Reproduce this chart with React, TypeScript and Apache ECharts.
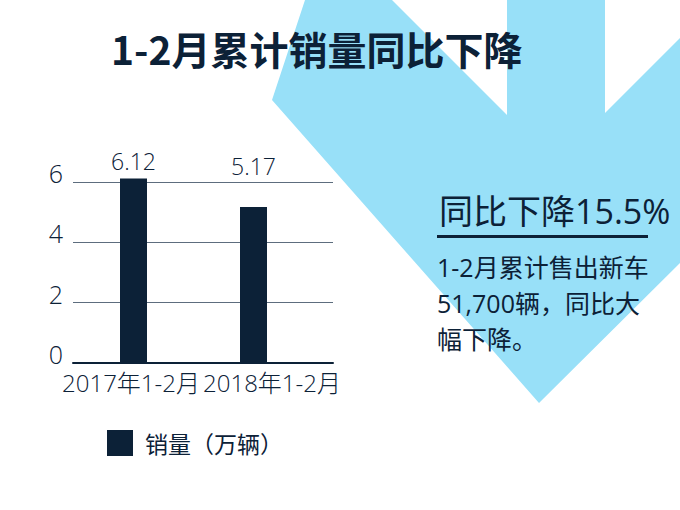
import React, { useEffect, useRef } from 'react';
import * as echarts from 'echarts';

const categories = ['2017年1-2月', '2018年1-2月'];
const sales = [6.12, 5.17];
const yTicks = [0, 2, 4, 6];
const seriesName = '销量（万辆）';
const title = '1-2月累计销量同比下降';
const headline = '同比下降15.5%';
const bodyLines = ['1-2月累计售出新车', '51,700辆，同比大', '幅下降。'];

const NAVY = '#0c2137';
const BLUE = '#98e0f8';
const GRID = '#5d6d7e';
const LATIN = "'Open Sans', 'Noto Sans CJK SC', sans-serif";
const CJK = "'Noto Sans CJK SC', sans-serif";

const catLabel = {
  fontFamily: LATIN,
  fontWeight: 300,
  fontSize: 24,
  color: NAVY,
  lineHeight: 26,
};

const App: React.FC = () => {
  const chartRef = useRef<HTMLDivElement | null>(null);

  useEffect(() => {
    if (!chartRef.current) return;
    const chart = echarts.init(chartRef.current, undefined, { renderer: 'svg' });

    const yMax = yTicks[yTicks.length - 1];
    const yInterval = yTicks[1] - yTicks[0];

    const option: echarts.EChartsOption = {
      animation: false,
      backgroundColor: '#ffffff',
      title: {
        text: title,
        left: 111,
        top: 27,
        padding: 0,
        textStyle: { fontFamily: CJK, fontWeight: 'bold', fontSize: 39, color: NAVY, lineHeight: 42 },
      },
      legend: {
        data: [seriesName],
        left: 102,
        top: 425,
        icon: 'rect',
        itemWidth: 26,
        itemHeight: 26,
        textStyle: { fontFamily: CJK, fontSize: 23, color: NAVY, padding: [0, 0, 0, 7] },
      },
      graphic: [
        {
          type: 'polygon',
          z: -10,
          silent: true,
          shape: {
            points: [
              [305, 0], [392, 0], [507, 115], [507, 0], [605, 0], [605, 113],
              [680, 38], [680, 263], [539, 403], [272, 100],
            ],
          },
          style: { fill: BLUE },
        },
        {
          type: 'text',
          z: 100,
          x: 439,
          y: 211,
          style: { text: headline, font: `34px ${LATIN}`, fill: NAVY, textVerticalAlign: 'middle' },
        },
        {
          type: 'rect',
          z: 100,
          shape: { x: 437, y: 235, width: 211, height: 3 },
          style: { fill: NAVY },
        },
        {
          type: 'text',
          z: 100,
          x: 437,
          y: 249,
          style: { text: bodyLines.join('\n'), font: `25px ${LATIN}`, fill: NAVY, lineHeight: 36 },
        },
      ],
      grid: [
        { left: 73.5, top: 182, width: 240, height: 181 },
        { left: 73, top: 182, width: 260, height: 181 },
      ],
      xAxis: [
        { type: 'category', gridIndex: 0, data: categories, show: false },
        {
          type: 'category',
          gridIndex: 1,
          data: categories,
          axisLine: { lineStyle: { color: NAVY, width: 2 } },
          axisTick: { show: false },
          axisLabel: {
            interval: 0,
            margin: 6,
            ...catLabel,
            formatter: (v: string, i: number) => (i === 0 ? `{l|${v}}` : `{r|${v}}`),
            rich: {
              l: { ...catLabel, padding: [0, 14, 0, 0] },
              r: { ...catLabel, padding: [0, 0, 0, 8] },
            },
          },
        },
      ],
      yAxis: [
        { type: 'value', gridIndex: 0, min: 0, max: yMax, interval: yInterval, show: false },
        {
          type: 'value',
          gridIndex: 1,
          min: 0,
          max: yMax,
          interval: yInterval,
          axisLine: { show: false },
          axisTick: { show: false },
          splitLine: { lineStyle: { color: GRID, width: 1 } },
          axisLabel: {
            margin: 10,
            fontFamily: LATIN,
            fontWeight: 300,
            fontSize: 25,
            color: NAVY,
            verticalAlign: 'bottom',
            lineHeight: 18,
          },
        },
      ],
      series: [
        {
          name: seriesName,
          type: 'bar',
          xAxisIndex: 0,
          yAxisIndex: 0,
          barWidth: 27,
          clip: false,
          z: 5,
          itemStyle: { color: NAVY },
          label: {
            show: true,
            position: 'top',
            fontFamily: LATIN,
            fontWeight: 300,
            fontSize: 23,
            color: NAVY,
            lineHeight: 26,
          },
          data: sales.map((v, i) => ({
            value: v,
            label: { distance: i === 0 ? 4 : 28 },
          })),
        },
      ],
    };

    chart.setOption(option);
    return () => {
      chart.dispose();
    };
  }, []);

  return (
    <div
      ref={chartRef}
      style={{ position: 'absolute', left: 0, top: 0, width: '680px', height: '510px' }}
    />
  );
};

export default App;
